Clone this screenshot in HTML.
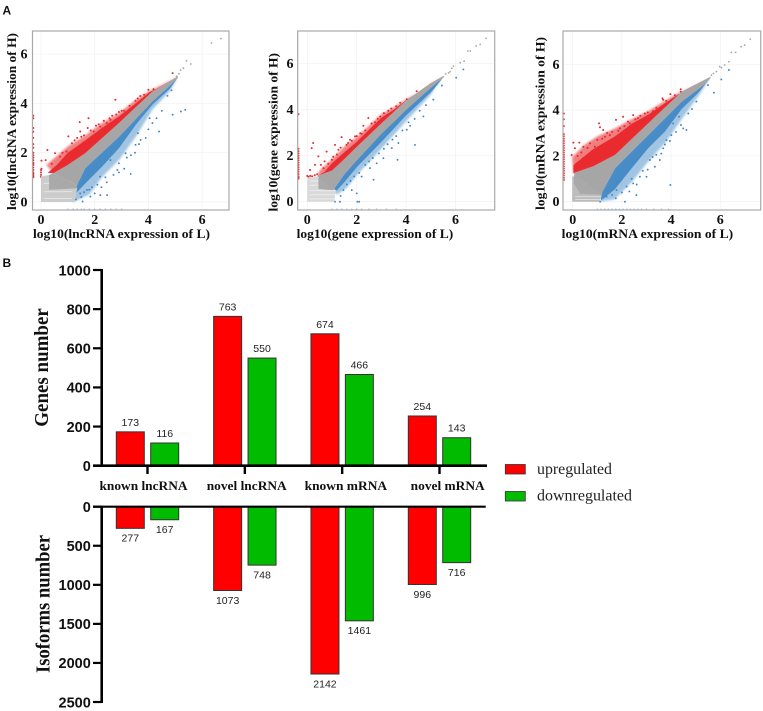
<!DOCTYPE html>
<html lang="en">
<head>
<meta charset="utf-8">
<title>Expression scatter plots and differential gene counts</title>
<style>
html,body{margin:0;padding:0;background:#fff;}
svg{display:block;}
text{fill:#111;}
.serif{font-family:"Liberation Serif",serif;font-weight:bold;}
.sans{font-family:"Liberation Sans",sans-serif;}
</style>
</head>
<body>
<svg id="figure" width="763" height="711" viewBox="0 0 763 711" xmlns="http://www.w3.org/2000/svg">
<defs>
<filter id="soft" x="-5%" y="-5%" width="110%" height="110%"><feGaussianBlur stdDeviation="0.3"/></filter>
<filter id="fuzzy" x="-10%" y="-10%" width="120%" height="120%"><feGaussianBlur stdDeviation="1"/></filter>
</defs>
<rect width="763" height="711" fill="#fff"/>
<text class="sans" x="2.5" y="14.5" font-size="12" font-weight="bold">A</text>
<text class="sans" x="2.5" y="267" font-size="12" font-weight="bold">B</text>
<g id="scatters"></g>
<g id="bars"></g>
<rect x="505.3" y="464.5" width="20" height="9.5" fill="#ff0000" stroke="#333" stroke-width="0.8"/>
<text x="537" y="474" font-family="Liberation Serif, serif" font-size="16" textLength="75" lengthAdjust="spacingAndGlyphs" style="fill:#222">upregulated</text>
<rect x="505.3" y="491.5" width="20" height="9.5" fill="#00bb00" stroke="#333" stroke-width="0.8"/>
<text x="537" y="500.7" font-family="Liberation Serif, serif" font-size="16" textLength="95" lengthAdjust="spacingAndGlyphs" style="fill:#222">downregulated</text>
</svg>
<script>
// ---------- Scatter tick labels ----------
const scatterXTicks = [0, 2, 4, 6];
const scatterYTicks = [0, 2, 4, 6];

// ---------- lncRNA scatter: band envelopes ----------
const lncGrayUpper = [[0.46,1.17],[1,1.5],[1.65,1.98],[2.9,3.2],[4.15,4.48],[4.77,4.89],[5.1,5.1]];
const lncGrayLower = [[1.34,0.69],[1.65,1.38],[2.9,2.64],[4.15,4.08],[4.77,4.69],[5.1,5.05]];
const lncRedDense = [[0.25,1.18],[0.59,1.5],[1,2.0],[1.65,2.5],[2.27,3.0],[2.9,3.47],[3.53,4.0],[4.03,4.45],[4.3,4.6]];
const lncRedSparse = [[0.2,1.5],[1,2.25],[1.65,2.7],[2.27,3.2],[2.9,3.6],[3.53,4.15],[4.03,4.5],[4.3,4.65]];
const lncBlueDense = [[1.25,0.3],[1.65,0.75],[2.27,1.43],[2.9,2.18],[3.53,3.13],[4.15,3.95],[4.8,4.6]];
const lncBlueSparse = [[1.2,0.0],[1.8,0.3],[2.27,1.0],[2.9,1.7],[3.53,2.65],[4.15,3.75],[4.8,4.5]];
const lncLowPale = [[0,0],[1.25,0],[1.35,0.55],[0.7,1.15],[0,1.05]];
const lncLowDense = [[0.3,0.5],[1.3,0.55],[1.34,0.69],[0.46,1.17],[0.3,1.1]];
const lncLowGaps = [0.14,0.42,0.76];
const lncRedPoints = [[2.77,4.15],[3.84,4.35],[4.9,5.23],[4.19,4.58],[1.44,3.24],[1.77,3.4],[1.74,3.0],[1.02,2.66],[0.24,2.11],[0.52,1.98],[0.02,1.68],[0.17,1.7],[0.71,1.84],[1.15,2.38],[1.46,2.86],[1.96,2.86],[2.34,3.3],[2.59,3.33],[3.09,3.7],[3.52,4.1],[2.21,3.06],[2.45,3.2],[0,1.3],[0,1.2],[0,1.1],[0.02,1.35],[0,1.02],[0.95,2.05],[1.25,2.5],[2.9,3.65],[0.4,1.55],[0.8,2.0],[1.6,2.7],
  [1.35,2.6],[1.5,2.65],[1.85,2.9],[2.05,3.1],[2.15,3.15],[2.55,3.4],[2.65,3.5],[2.8,3.55],[3,3.7],[3.3,3.9],[3.6,4.2],[3.7,4.3],[4.0,4.55]];
const lncBluePoints = [[5.37,3.74],[5.21,3.67],[4.9,3.54],[4.4,2.86],[4.05,3.4],[4.71,4.31],[4.86,4.53],[3.71,2.52],[3.34,1.14],[2.46,0.28],[2.21,0.28],[1.84,0.22],[2.84,1.3],[3.52,2.32],[2.59,1.7],[2.2,1.03],[1.71,0.49],[1.46,0.35],[3.15,1.98],[2.9,1.57],[3.61,2.79],[1.3,0.1],[1.55,0.02],[1.9,0.6],[2.4,1.0],
  [1.5,0.2],[1.6,0.4],[1.8,0.5],[2,0.35],[2.1,0.7],[2.25,0.6],[2.45,0.8],[2.7,1.1],[2.9,1.2],[3.1,1.35],[3.2,1.8],[3.35,1.9],[3.5,2.0],[3.65,2.35],[3.9,2.6],[4,2.95],[4.15,3.2],[4.3,3.4],[4.5,3.7]];
const lncGrayPoints = [[6.7,6.63],[6.35,6.45],[5.42,5.73],[5.58,5.6],[5.3,5.43],[5.14,5.2],[4.96,4.96],[5.05,5.1],[5.2,5.35],[4.85,4.85]];
const lncLeftStrip = [1,1.05,1.1,1.15,1.2,1.3,1.4,1.5,1.55,1.6,1.7,1.8,1.9,2.0,2.2,2.35,2.6,2.85,3.0,3.4,3.5];
const lncBottomStrip = [1,1.2,1.35,1.5,1.6,1.8,2,2.2,2.4,2.6,2.8,3];

// ---------- gene scatter ----------
const geneGrayUpper = [[0.4,1.12],[1,1.35],[1.5,1.85],[2,2.38],[3,3.4],[4,4.4],[5,5.15],[5.5,5.45]];
const geneGrayLower = [[1.05,0.5],[1.5,1.2],[2,1.8],[3,2.95],[4,4.0],[5,4.95],[5.5,5.4]];
const geneRedDense = [[0.7,1.3],[1,1.67],[1.5,2.15],[2,2.6],[3,3.65],[3.5,4.0],[4,4.42]];
const geneRedSparse = [[0.5,1.35],[1,1.85],[1.5,2.4],[2,2.8],[2.5,3.3],[3,3.8],[3.5,4.1],[4,4.45]];
const geneBlueDense = [[1.2,0.5],[1.5,0.85],[2,1.5],[3,2.6],[4,3.75],[5,4.75],[5.2,5.0]];
const geneBlueSparse = [[1.2,0.3],[1.6,0.6],[2,1.15],[3,2.3],[4,3.5],[5,4.65],[5.2,5.0]];
const geneLowPale = [[0,0],[1.1,0],[1.15,0.5],[0.45,1.1],[0,1.05]];
const geneLowDense = [[0.45,0.55],[1.05,0.5],[1.1,0.7],[0.5,1.12],[0.45,1.0]];
const geneLowGaps = [0.12,0.3,0.48,0.72,0.9];
const geneRedPoints = [[0.24,2.55],[0.18,2.33],[0.11,1.38],[0.45,1.97],[0.31,1.6],[0.78,2.18],[1.12,2.47],[1.39,2.81],[1.93,2.84],[2.47,3.64],[2.27,3.3],[2.74,3.45],[4.43,4.8],[4.03,4.45],[3.76,4.3],[3.28,3.95],[1.26,2.26],[1.59,2.47],[1.73,2.69],[0.99,1.82],[0.65,1.46],[2.14,2.98],[2.95,3.7],[0,1.12],[0.05,1.08],[0.12,1.12],[0.2,1.1],[0.3,1.15],[0.4,1.2],[0.55,1.6],[0.7,1.75],
  [0.85,1.65],[1.05,1.95],[1.2,2.05],[1.35,2.35],[1.65,2.55],[1.8,2.65],[2,2.85],[2.2,2.95],[2.35,3.1],[2.6,3.4],[2.85,3.6],[3.1,3.85],[3.4,4.05],[3.6,4.15]];
const geneBluePoints = [[4.36,2.47],[3.65,1.82],[2.68,0.95],[2.03,0],[2.1,0],[2,0.36],[1.8,0.51],[1.12,0],[1.32,0],[1.46,0.51],[4.16,3.3],[3.69,2.55],[4.7,3.71],[6.32,5.75],[6.03,5.39],[5.45,5.05],[5.1,4.44],[3.08,1.89],[2.54,1.46],[2.2,1.09],[2.81,1.67],[4.03,3.13],[3.42,2.33],[1.6,0.75],[1.35,0.25],[1.75,0.9],
  [1.9,1.1],[2.1,1.25],[2.35,1.6],[2.5,1.75],[2.65,1.9],[2.9,2.1],[3.1,2.3],[3.25,2.5],[3.45,2.7],[3.6,2.85],[3.85,3.1],[4.1,3.45],[4.35,3.6],[4.55,3.95],[4.8,4.2]];
const geneGrayPoints = [[7.24,7.1],[7,6.84],[6.84,6.77],[6.6,6.55],[6.5,6.55],[6.35,6.11],[6.19,6.04],[5.92,5.9],[5.85,5.8],[5.72,5.6],[5.51,5.43],[5.6,5.55],[5.78,5.65]];
const geneLeftStrip = [1,1.05,1.1,1.2,1.3,1.4,1.5,1.6,1.7,1.8,1.9,2.0,2.1,2.2,2.3,3.8];
const geneBottomStrip = [1,1.2,1.4,1.6,1.8,2,2.2,2.5,2.8,3.2,3.6];

// ---------- mRNA scatter ----------
const mrnaGrayUpper = [[0.03,1.24],[0.84,1.55],[1.72,2.04],[3.07,3.42],[4.43,4.8],[5.38,5.33],[5.6,5.46]];
const mrnaGrayLower = [[1.17,0.36],[1.72,1.46],[3.07,2.91],[4.43,4.37],[5.38,5.14],[5.6,5.4]];
const mrnaRedDense = [[0.03,1.6],[0.84,2.3],[1.72,2.85],[2.4,3.4],[3.07,3.8],[3.75,4.3],[4.3,4.7]];
const mrnaRedSparse = [[-0.02,1.95],[0.5,2.5],[1,2.85],[1.72,3.2],[2.4,3.6],[3.07,3.95],[3.75,4.4],[4.3,4.75]];
const mrnaBlueDense = [[1.15,0.05],[1.72,0.55],[2.4,1.46],[3.07,2.34],[3.75,3.06],[4.43,4.05],[5.1,4.75]];
const mrnaBlueSparse = [[1.1,0],[1.7,0.1],[2.4,0.85],[3.07,1.75],[3.75,2.55],[4.43,3.6],[5.1,4.6]];
const mrnaLowPale = [[-0.02,0],[1.1,0],[1.2,0.4],[0.6,1.1],[-0.02,1.1]];
const mrnaLowDense = [[0.3,0.35],[1.15,0.3],[1.2,0.4],[0.84,1.0],[0.05,1.2],[0.05,0.8]];
const mrnaLowGaps = [0.1,0.22];
const mrnaRedPoints = [[0.03,2.58],[0.27,2.58],[0.09,2.33],[-0.04,2.04],[0.43,2.4],[1.07,3.42],[1.11,3.25],[1.31,2.84],[1.24,3.13],[1.76,3.57],[2.05,3.71],[2.46,3.78],[2.93,3.85],[3.65,4.51],[3.97,4.7],[4.39,4.91],[4.39,4.8],[0.57,1.97],[0.77,2.18],[0.9,2.4],[1.51,2.91],[1.92,3.2],[2.66,3.65],[3.27,3.95],[0.16,1.67],[0.43,1.89],[3.68,4.45],[4.15,4.65],[2.32,3.42],
  [0.2,2.0],[0.35,2.15],[0.6,2.35],[0.7,2.55],[1.0,2.7],[1.2,2.75],[1.4,3.0],[1.6,3.05],[1.85,3.1],[2.1,3.3],[2.25,3.5],[2.55,3.6],[2.75,3.75],[3.05,3.9],[3.4,4.1],[3.8,4.4]];
const mrnaBluePoints = [[3.97,0.73],[5.74,4.76],[6.04,5.34],[6.35,5.75],[5.5,5.09],[5.03,4.37],[4.62,3.13],[4.49,3.2],[4.32,3.71],[4.01,2.91],[3.68,2.33],[3.34,1.53],[3,1.09],[2.59,0.29],[2.12,0],[2.46,0.8],[1.78,0.51],[1.38,0.22],[1.11,0],[3.54,1.82],[3.81,2.69],[3.14,1.82],[4.08,3.42],[2.73,1.09],[2.19,0.66],[1.92,0.95],
  [1.6,0.3],[1.75,0.15],[2,0.4],[2.3,0.45],[2.4,1.0],[2.6,0.75],[2.85,1.35],[3.05,1.4],[3.25,1.95],[3.4,2.05],[3.6,2.1],[3.75,2.5],[3.95,2.65],[4.2,3.05],[4.4,3.35],[4.7,3.85],[4.85,4.05]];
const mrnaGrayPoints = [[7.22,7.1],[6.99,6.84],[6.85,6.77],[6.62,6.52],[6.45,6.52],[6.35,6.11],[6.18,5.97],[5.97,5.9],[5.84,5.68],[5.64,5.53],[5.72,5.6],[6.05,5.85]];
const mrnaLeftStrip = [0.95,1.05,1.15,1.25,1.35,1.45,1.55,1.65,1.75,1.85,1.95,2.05,2.15,2.25,2.35,2.45,2.55,2.65,2.75,2.85,2.95,3.3,3.6,3.85];
const mrnaBottomStrip = [1,1.15,1.3,1.45,1.6,1.75,1.9,2.05,2.2,2.35,2.5,2.65,2.8,3,3.3,3.6,3.9];

// ---------- Bar chart data ----------
const barCategories = ['known lncRNA', 'novel lncRNA', 'known mRNA', 'novel mRNA'];
const genesUp = [173, 763, 674, 254];
const genesDown = [116, 550, 466, 143];
const isoformsUp = [277, 1073, 2142, 996];
const isoformsDown = [167, 748, 1461, 716];
const genesTicks = [0, 200, 400, 600, 800, 1000];
const isoformsTicks = [0, 500, 1000, 1500, 2000, 2500];

const SVG_NS = 'http://www.w3.org/2000/svg';

function make(parent, tag, attrs, text) {
  const el = document.createElementNS(SVG_NS, tag);
  for (const k in attrs) el.setAttribute(k, attrs[k]);
  if (text !== undefined) el.textContent = text;
  parent.appendChild(el);
  return el;
}
function linear(d0, r0, d1, r1) {
  return function (v) { return r0 + (v - d0) * (r1 - r0) / (d1 - d0); };
}

function drawPolygon(group, chain, sx, sy, fill, opacity, name, filter) {
  const pts = chain.map(function (p) { return sx(p[0]).toFixed(1) + ',' + sy(p[1]).toFixed(1); }).join(' ');
  const el = make(group, 'polygon', { points: pts, fill: fill, opacity: opacity });
  if (filter) el.setAttribute('filter', filter);
  
  
}
function drawDots(group, points, sx, sy, fill, r, name) {
  points.forEach(function (p) {
    const el = make(group, 'circle', { cx: sx(p[0]).toFixed(1), cy: sy(p[1]).toFixed(1), r: r, fill: fill });
    
    
  });
}

function drawScatter(cfg) {
  const root = document.getElementById('scatters');
  const g = make(root, 'g', {});
  
  
  const sx = linear(0, cfg.x0, 2, cfg.x2);
  const sy = linear(0, cfg.y0, 2, cfg.y2);

  scatterXTicks.forEach(function (t) {
    const grid = make(g, 'line', { x1: sx(t), x2: sx(t), y1: cfg.top, y2: cfg.bottom, stroke: '#f3f3f3', 'stroke-width': 0.8 });
    
    
    const label = make(g, 'text', { x: sx(t), y: 224, 'text-anchor': 'middle', 'font-size': 14, class: 'serif' }, String(t));
    
    
  });
  scatterYTicks.forEach(function (t) {
    const grid = make(g, 'line', { x1: cfg.left, x2: cfg.right, y1: sy(t), y2: sy(t), stroke: '#f3f3f3', 'stroke-width': 0.8 });
    
    
    const label = make(g, 'text', { x: cfg.yTickX, y: sy(t) + 4.5, 'text-anchor': 'end', 'font-size': 14, class: 'serif' }, String(t));
    
    
  });

  const marks = make(g, 'g', { filter: 'url(#soft)' });
  
  

  const revGrayUp = cfg.grayUpper.slice().reverse();
  const revGrayLow = cfg.grayLower.slice().reverse();
  drawPolygon(marks, cfg.redSparse.concat(revGrayUp), sx, sy, '#e9282c', 0.6, 'upregulated-sparse-band', 'url(#fuzzy)');
  drawPolygon(marks, cfg.redDense.concat(revGrayUp), sx, sy, '#e9282c', 0.95, 'upregulated-dense-band');
  drawPolygon(marks, cfg.blueSparse.concat(revGrayLow), sx, sy, '#4189c6', 0.5, 'downregulated-sparse-band', 'url(#fuzzy)');
  drawPolygon(marks, cfg.blueDense.concat(revGrayLow), sx, sy, '#3f86c4', 0.9, 'downregulated-dense-band');
  drawDots(marks, cfg.redPoints, sx, sy, '#e9282c', 1, 'upregulated-point');
  drawDots(marks, cfg.bluePoints, sx, sy, '#3f86c4', 0.95, 'downregulated-point');
  drawPolygon(marks, cfg.lowPale, sx, sy, cfg.paleFill, 1, 'low-expression-pale-cloud');
  cfg.lowGaps.forEach(function (v) {
    const gap = make(marks, 'line', { x1: sx(0.1), x2: sx(1.15), y1: sy(v), y2: sy(v), stroke: '#fff', 'stroke-width': 0.9, opacity: 0.55 });
    
    
  });
  drawPolygon(marks, cfg.lowDense, sx, sy, '#a9a9a9', 1, 'low-expression-dense-cloud');
  drawPolygon(marks, cfg.grayUpper.concat(revGrayLow), sx, sy, '#a6a6a6', 1, 'unchanged-band');
  drawDots(marks, cfg.grayPoints, sx, sy, '#a6a6a6', 0.9, 'unchanged-point');

  cfg.leftStrip.forEach(function (v) {
    const el = make(marks, 'circle', { cx: cfg.left + 0.8, cy: sy(v).toFixed(1), r: 1, fill: '#e9282c' });
    
    
  });
  cfg.bottomStrip.forEach(function (v) {
    const el = make(marks, 'circle', { cx: sx(v).toFixed(1), cy: cfg.bottom - 0.8, r: 0.8, fill: '#a9c6df' });
    
    
  });

  const frame = make(g, 'rect', { x: cfg.left, y: cfg.top, width: cfg.right - cfg.left, height: cfg.bottom - cfg.top, fill: 'none', stroke: '#a9a9a9', 'stroke-width': 1.2 });
  
  

  const xt = make(g, 'text', { x: cfg.xTitleX, y: 238, 'font-size': 13, class: 'serif', textLength: cfg.xTitleLen, lengthAdjust: 'spacingAndGlyphs' }, cfg.xTitle);
  
  
  const yt = make(g, 'text', { transform: 'translate(' + cfg.yTitleX + ',' + cfg.yTitleBottom + ') rotate(-90)', 'font-size': 13, class: 'serif', textLength: cfg.yTitleLen, lengthAdjust: 'spacingAndGlyphs' }, cfg.yTitle);
  
  
}

drawScatter({
  id: 'lncrna', left: 32.5, right: 229, top: 31, bottom: 210,
  x0: 41, x2: 94.7, y0: 202, y2: 152.7, yTickX: 27.5,
  xTitle: 'log10(lncRNA expression of L)', xTitleX: 33, xTitleLen: 177,
  yTitle: 'log10(lncRNA expression of H)', yTitleX: 16, yTitleBottom: 210, yTitleLen: 177,
  paleFill: '#cccccc', lowGaps: lncLowGaps,
  grayUpper: lncGrayUpper, grayLower: lncGrayLower, redDense: lncRedDense, redSparse: lncRedSparse,
  blueDense: lncBlueDense, blueSparse: lncBlueSparse, lowPale: lncLowPale, lowDense: lncLowDense,
  redPoints: lncRedPoints, bluePoints: lncBluePoints, grayPoints: lncGrayPoints,
  leftStrip: lncLeftStrip, bottomStrip: lncBottomStrip
});
drawScatter({
  id: 'gene', left: 297.7, right: 494.7, top: 31, bottom: 210,
  x0: 307.3, x2: 356.7, y0: 201.7, y2: 155.7, yTickX: 293.5,
  xTitle: 'log10(gene expression of L)', xTitleX: 296.7, xTitleLen: 156.5,
  yTitle: 'log10(gene expression of H)', yTitleX: 277.5, yTitleBottom: 211.5, yTitleLen: 158.5,
  paleFill: '#d9d9d9', lowGaps: geneLowGaps,
  grayUpper: geneGrayUpper, grayLower: geneGrayLower, redDense: geneRedDense, redSparse: geneRedSparse,
  blueDense: geneBlueDense, blueSparse: geneBlueSparse, lowPale: geneLowPale, lowDense: geneLowDense,
  redPoints: geneRedPoints, bluePoints: geneBluePoints, grayPoints: geneGrayPoints,
  leftStrip: geneLeftStrip, bottomStrip: geneBottomStrip
});
drawScatter({
  id: 'mrna', left: 563, right: 760.7, top: 31, bottom: 210,
  x0: 572.7, x2: 621.9, y0: 201.7, y2: 155.9, yTickX: 559.5,
  xTitle: 'log10(mRNA expression of L)', xTitleX: 561.7, xTitleLen: 171.5,
  yTitle: 'log10(mRNA expression of H)', yTitleX: 544.5, yTitleBottom: 210, yTitleLen: 173,
  paleFill: '#bcbcbc', lowGaps: mrnaLowGaps,
  grayUpper: mrnaGrayUpper, grayLower: mrnaGrayLower, redDense: mrnaRedDense, redSparse: mrnaRedSparse,
  blueDense: mrnaBlueDense, blueSparse: mrnaBlueSparse, lowPale: mrnaLowPale, lowDense: mrnaLowDense,
  redPoints: mrnaRedPoints, bluePoints: mrnaBluePoints, grayPoints: mrnaGrayPoints,
  leftStrip: mrnaLeftStrip, bottomStrip: mrnaBottomStrip
});

// ---------- Bar chart ----------
(function () {
  const g = document.getElementById('bars');
  const yGenes = linear(0, 465.7, 1000, 270);
  const yIso = linear(0, 506.7, 2500, 702);
  const catCenter = linear(0, 147.5, 3, 439.5);
  const barW = 28;
  const barOffset = 17.2;
  const catLabelLen = [88, 80, 82.5, 74];
  const catLabelShift = [-3.5, 2.4, 4.2, 8.7];

  function bar(cat, value, scale, color, side, name) {
    const cx = catCenter(cat) + side * barOffset;
    const y0 = scale(0);
    const y1 = scale(value);
    const r = make(g, 'rect', {
      x: cx - barW / 2, width: barW, y: Math.min(y0, y1), height: Math.abs(y1 - y0),
      fill: color, stroke: '#333', 'stroke-width': 1
    });
    
    
    const labelY = y1 < y0 ? y1 - 6 : y1 + 13.4;
    const t = make(g, 'text', { x: cx, y: labelY, 'text-anchor': 'middle', 'font-size': 10.5, class: 'sans', style: 'fill:#222' }, String(value));
    
    
  }

  barCategories.forEach(function (c, i) {
    bar(i, genesUp[i], yGenes, '#ff0000', -1, 'genes-up-bar');
    bar(i, genesDown[i], yGenes, '#00bb00', 1, 'genes-down-bar');
    bar(i, isoformsUp[i], yIso, '#ff0000', -1, 'isoforms-up-bar');
    bar(i, isoformsDown[i], yIso, '#00bb00', 1, 'isoforms-down-bar');

    const tick = make(g, 'line', { x1: catCenter(i), x2: catCenter(i), y1: 465.7, y2: 474, stroke: '#000', 'stroke-width': 2.4 });
    
    
    const lab = make(g, 'text', { x: catCenter(i) - catLabelLen[i] / 2 - 0.5 + catLabelShift[i], y: 490, 'font-size': 12.5, class: 'serif', textLength: catLabelLen[i], lengthAdjust: 'spacingAndGlyphs' }, c);
    
    
  });

  function yAxis(ticks, scale, top, bottom, name) {
    const spine = make(g, 'line', { x1: 101.7, x2: 101.7, y1: top, y2: bottom, stroke: '#000', 'stroke-width': 2.6 });
    
    
    ticks.forEach(function (t) {
      const m = make(g, 'line', { x1: 93, x2: 101.7, y1: scale(t), y2: scale(t), stroke: '#000', 'stroke-width': 2.2 });
      
      
      const l = make(g, 'text', { x: 90.8, y: scale(t) + 5.3, 'text-anchor': 'end', 'font-size': 14.5, 'font-weight': 'bold', class: 'sans' }, String(t));
      
      
    });
  }
  yAxis(genesTicks, yGenes, 269, 467, 'genes');
  yAxis(isoformsTicks, yIso, 505.7, 703, 'isoforms');

  const topBase = make(g, 'line', { x1: 93, x2: 487, y1: 465.7, y2: 465.7, stroke: '#000', 'stroke-width': 2.6 });
  
  
  const botBase = make(g, 'line', { x1: 93, x2: 485.7, y1: 506.7, y2: 506.7, stroke: '#000', 'stroke-width': 2.2 });
  
  

  const t1 = make(g, 'text', { transform: 'translate(48,426.7) rotate(-90)', 'font-size': 19.5, class: 'serif', textLength: 118.5, lengthAdjust: 'spacingAndGlyphs' }, 'Genes number');
  
  
  const t2 = make(g, 'text', { transform: 'translate(49.5,673) rotate(-90)', 'font-size': 19.5, class: 'serif', textLength: 138, lengthAdjust: 'spacingAndGlyphs' }, 'Isoforms number');
  
  
})();
</script>
</body>
</html>
